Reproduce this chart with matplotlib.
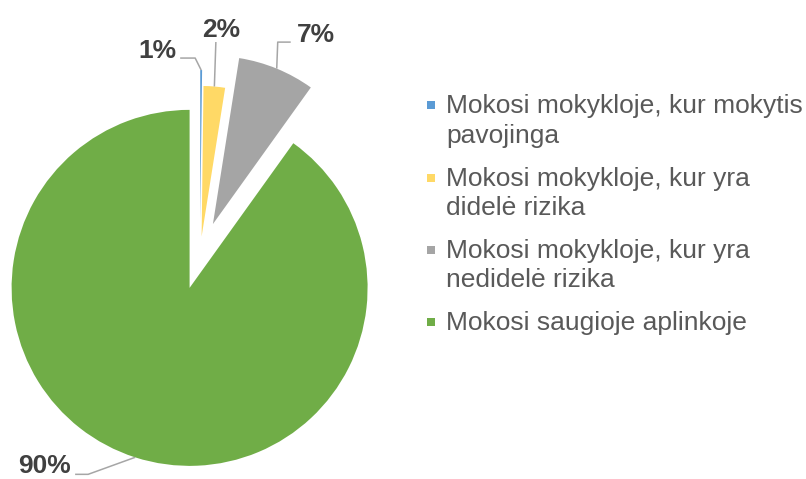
import numpy as np
import matplotlib
matplotlib.use("Agg")
import matplotlib.pyplot as plt

plt.rcParams['font.family'] = ['Liberation Sans', 'DejaVu Sans']

categories = ["Mokosi mokykloje, kur mokytis\npavojinga",
              "Mokosi mokykloje, kur yra\ndidelė rizika",
              "Mokosi mokykloje, kur yra\nnedidelė rizika",
              "Mokosi saugioje aplinkoje"]
shares = [0.2, 2.3, 7.4, 90.1]
pct_labels = ["1%", "2%", "7%", "90%"]
colors = ["#5B9BD5", "#FFD966", "#A5A5A5", "#70AD47"]

# everything below is laid out in pixels (806x479 at dpi 100, y up)
W, H = 806, 479
center = (200, H - 255.5)
radius = 178
shift = [34.5, 19, 34, 34]          # how far each slice is pulled out
rscale = [0.848, 0.846, 0.944, 1.0]  # slices are not all the same size

# leader line bends and label offsets, relative to the slice's outer edge
leaders = [[(0, 0), (-6, 12), (-21, 12)],
           [(0, 0), (1.5, 44.5)],
           [(0, 0), (1, 26.5), (14, 26.5)],
           [(0, 0), (-47, -17), (-60, -17)]]
label_off = [(-25, 12, "right"), (7, 50, "center"),
             (20, 26.5, "left"), (-64, -15.5, "right")]

fig = plt.figure(figsize=(W / 100, H / 100), dpi=100)
ax = fig.add_axes([0, 0, 1, 1])

wedges, _ = ax.pie(shares, colors=colors, startangle=90, counterclock=False,
                   center=center, radius=radius,
                   wedgeprops=dict(linewidth=0))

for i, w in enumerate(wedges):
    mid = np.deg2rad((w.theta1 + w.theta2) / 2)
    cx = center[0] + shift[i] * np.cos(mid)
    cy = center[1] + shift[i] * np.sin(mid)
    w.set_center((cx, cy))
    w.set_radius(radius * rscale[i])
    # point on the outer arc where the leader starts
    px = cx + radius * rscale[i] * np.cos(mid)
    py = cy + radius * rscale[i] * np.sin(mid)
    pts = np.array(leaders[i])
    ax.plot(px + pts[:, 0], py + pts[:, 1], color="#A6A6A6", lw=1.1,
            solid_capstyle="butt")
    dx, dy, ha = label_off[i]
    ax.text(px + dx, py + dy, pct_labels[i], ha=ha, va="baseline",
            fontsize=19, fontweight="bold", color="#404040")

# legend, drawn by hand so the marker sits on the first line
leg_x, leg_y = 446, H - 113.3
entry_step, line_step = 72.2, 29.5
for i, lab in enumerate(categories):
    y0 = leg_y - i * entry_step
    ax.scatter([431], [y0 + 8], marker="s", s=30, color=colors[i], linewidths=0)
    for j, line in enumerate(lab.split("\n")):
        ax.text(leg_x, y0 - j * line_step, line, ha="left", va="baseline",
                fontsize=19, color="#595959")

ax.set_xlim(0, W)
ax.set_ylim(0, H)
ax.set_aspect("auto")
ax.axis("off")

fig.savefig("out.png", dpi=100)
